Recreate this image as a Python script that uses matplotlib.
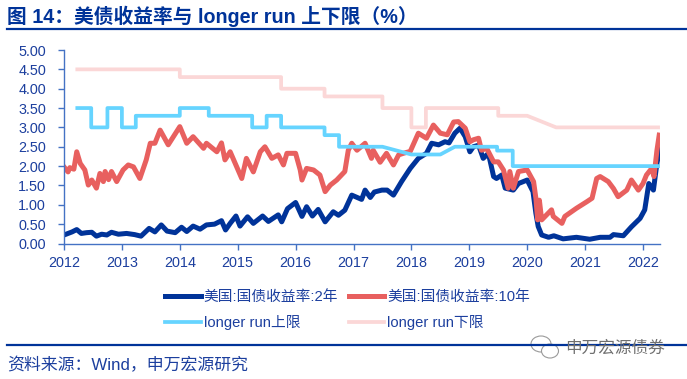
import matplotlib
matplotlib.use('Agg')
import matplotlib.pyplot as plt
from matplotlib.patches import Ellipse
from matplotlib.lines import Line2D

plt.rcParams['font.family'] = ['Liberation Sans', 'Noto Sans CJK SC']

# ---- data (decimal years) ----
x_2y = [2012.0, 2012.07, 2012.14, 2012.22, 2012.3, 2012.39, 2012.48, 2012.56, 2012.65, 2012.74, 2012.82, 2012.94,
        2013.08, 2013.22, 2013.33, 2013.47, 2013.57, 2013.68, 2013.78, 2013.92, 2014.03, 2014.12, 2014.23, 2014.35,
        2014.46, 2014.6, 2014.72, 2014.79, 2014.87, 2014.97, 2015.04, 2015.17, 2015.27, 2015.43, 2015.53, 2015.7,
        2015.76, 2015.86, 2016.0, 2016.11, 2016.19, 2016.29, 2016.39, 2016.51, 2016.65, 2016.74, 2016.85, 2016.97,
        2017.14, 2017.2, 2017.29, 2017.36, 2017.49, 2017.58, 2017.69, 2017.83, 2017.98, 2018.12, 2018.26, 2018.35,
        2018.47, 2018.58, 2018.65, 2018.75, 2018.84, 2018.93, 2019.01, 2019.07, 2019.16, 2019.24, 2019.33, 2019.42,
        2019.47, 2019.56, 2019.62, 2019.76, 2019.85, 2020.0, 2020.1, 2020.15, 2020.19, 2020.25, 2020.37, 2020.46,
        2020.62, 2020.85, 2021.08, 2021.26, 2021.43, 2021.49, 2021.66, 2021.8, 2021.95, 2022.03, 2022.1, 2022.18,
        2022.24, 2022.29]
y_2y = [0.22, 0.26, 0.3, 0.36, 0.26, 0.28, 0.29, 0.19, 0.24, 0.22, 0.29, 0.24,
        0.26, 0.23, 0.19, 0.39, 0.3, 0.48, 0.32, 0.28, 0.42, 0.31, 0.45, 0.37,
        0.48, 0.5, 0.59, 0.35, 0.52, 0.71, 0.45, 0.69, 0.52, 0.71, 0.57, 0.74,
        0.56, 0.9, 1.06, 0.7, 0.95, 0.71, 0.88, 0.56, 0.82, 0.73, 0.86, 1.25,
        1.14, 1.38, 1.19, 1.33, 1.38, 1.38, 1.25, 1.6, 1.94, 2.2, 2.33, 2.59,
        2.55, 2.63, 2.6, 2.85, 2.98, 2.76, 2.37, 2.5, 2.54, 2.2, 2.33, 1.73,
        1.68, 1.77, 1.43, 1.38, 1.55, 1.64, 1.34, 0.78, 0.44, 0.22, 0.16, 0.2,
        0.12, 0.16, 0.11, 0.16, 0.16, 0.23, 0.2, 0.43, 0.65, 0.87, 1.55, 1.38,
        2.07, 2.46]

x_10y = [2012.0, 2012.07, 2012.1, 2012.17, 2012.22, 2012.28, 2012.36, 2012.42, 2012.48, 2012.56, 2012.62, 2012.68,
         2012.71, 2012.77, 2012.82, 2012.91, 2013.02, 2013.11, 2013.2, 2013.31, 2013.42, 2013.49, 2013.57, 2013.66,
         2013.8, 2014.0, 2014.12, 2014.23, 2014.41, 2014.46, 2014.64, 2014.72, 2014.78, 2014.87, 2015.07, 2015.15,
         2015.27, 2015.39, 2015.47, 2015.59, 2015.7, 2015.79, 2015.85, 2016.0, 2016.08, 2016.11, 2016.19, 2016.31,
         2016.42, 2016.51, 2016.6, 2016.71, 2016.85, 2016.91, 2016.97, 2017.06, 2017.2, 2017.31, 2017.34, 2017.46,
         2017.57, 2017.69, 2017.78, 2017.86, 2017.98, 2018.12, 2018.26, 2018.38, 2018.5, 2018.62, 2018.73, 2018.81,
         2018.93, 2019.01, 2019.07, 2019.16, 2019.21, 2019.3, 2019.42, 2019.5, 2019.59, 2019.67, 2019.7, 2019.76,
         2019.85, 2020.0, 2020.11, 2020.15, 2020.18, 2020.21, 2020.25, 2020.42, 2020.45, 2020.6, 2020.65, 2020.85,
         2021.03, 2021.12, 2021.2, 2021.26, 2021.4, 2021.49, 2021.57, 2021.72, 2021.8, 2021.92, 2022.0, 2022.06,
         2022.15, 2022.19, 2022.24, 2022.28]
y_10y = [1.98, 1.85, 1.96, 1.92, 2.37, 2.07, 1.9, 1.51, 1.64, 1.43, 1.81, 1.6,
         1.86, 1.65, 1.86, 1.6, 1.9, 2.03, 1.98, 1.68, 2.16, 2.59, 2.59, 2.93,
         2.55, 3.02, 2.59, 2.76, 2.46, 2.59, 2.37, 2.6, 2.16, 2.37, 1.68, 2.2,
         1.85, 2.37, 2.5, 2.2, 2.29, 2.03, 2.33, 2.33, 1.9, 1.64, 1.94, 1.9,
         1.77, 1.34, 1.51, 1.64, 1.86, 2.41, 2.59, 2.41, 2.59, 2.2, 2.41, 2.1,
         2.33, 2.03, 2.29, 2.33, 2.38, 2.85, 2.72, 3.06, 2.85, 2.81, 3.14, 3.15,
         2.98, 2.63, 2.68, 2.72, 2.41, 2.46, 2.11, 2.11, 1.9, 1.43, 1.86, 1.43,
         1.86, 1.9, 1.6, 1.17, 0.61, 1.12, 0.61, 0.87, 0.7, 0.52, 0.7, 0.91,
         1.08, 1.17, 1.68, 1.73, 1.6, 1.42, 1.21, 1.38, 1.64, 1.38, 1.55, 1.77,
         1.94, 1.73, 2.4, 2.8]

x_upper = [2012.23, 2012.47, 2012.47, 2012.75, 2012.75, 2013.0, 2013.0, 2013.24, 2013.24, 2014.0, 2014.0, 2014.5,
           2014.5, 2015.25, 2015.25, 2015.5, 2015.5, 2015.75, 2015.75, 2016.5, 2016.5, 2016.75, 2016.75, 2017.5,
           2018.0, 2018.5, 2018.75, 2019.48, 2019.48, 2019.75, 2019.75, 2022.26]
y_upper = [3.5, 3.5, 3.0, 3.0, 3.5, 3.5, 3.0, 3.0, 3.3, 3.3, 3.5, 3.5,
           3.3, 3.3, 3.0, 3.0, 3.3, 3.3, 3.0, 3.0, 2.8, 2.8, 2.5, 2.5,
           2.3, 2.3, 2.5, 2.5, 2.4, 2.4, 2.0, 2.0]

x_lower = [2012.23, 2014.0, 2014.0, 2015.75, 2015.75, 2016.5, 2016.5, 2017.5, 2017.5, 2018.0, 2018.0, 2018.25,
           2018.25, 2019.5, 2019.5, 2020.0, 2020.5, 2022.26]
y_lower = [4.5, 4.5, 4.3, 4.3, 4.0, 4.0, 3.8, 3.8, 3.5, 3.5, 3.0, 3.0,
           3.5, 3.5, 3.3, 3.3, 3.0, 3.0]

years = list(range(2012, 2023))
y_ticks = [0, 0.5, 1, 1.5, 2, 2.5, 3, 3.5, 4, 4.5, 5]

NAVY = '#003399'
TXT = '#1c3f9e'
W, H = 687, 379

fig = plt.figure(figsize=(W / 100, H / 100), dpi=100)
ax = fig.add_axes([64 / W, 1 - 243.5 / H, 596 / W, 193.5 / H])

ax.plot(x_2y, y_2y, color=NAVY, lw=3.6, label='美国:国债收益率:2年', solid_joinstyle='round')
ax.plot(x_10y, y_10y, color='#e8605f', lw=3.6, label='美国:国债收益率:10年', solid_joinstyle='round')
ax.plot(x_upper, y_upper, color='#66d4ff', lw=2.7, label='longer run上限')
ax.plot(x_lower, y_lower, color='#fbd7d7', lw=2.7, label='longer run下限')

ax.set_xlim(2012, 2012 + 596 / 57.9)
ax.set_ylim(0, 5)
ax.set_xticks(years)
ax.set_yticks(y_ticks)
ax.set_yticklabels([f'{v:.2f}' for v in y_ticks])
ax.tick_params(colors='#4472c4', labelcolor=TXT, labelsize=10.4, length=4, width=1)
ax.tick_params(axis='y', pad=9)
ax.tick_params(axis='x', pad=5)
for s in ('top', 'right'):
    ax.spines[s].set_visible(False)
for s in ('left', 'bottom'):
    ax.spines[s].set_color('#4472c4')
    ax.spines[s].set_linewidth(1)

# legend sits in two columns under the plot
handles, labels = ax.get_legend_handles_labels()
order = [0, 2, 1, 3]
leg = fig.legend([handles[i] for i in order], [labels[i] for i in order], ncol=2, frameon=False,
                 loc='upper left', bbox_to_anchor=(155 / W, 1 - 280 / H), fontsize=10.6,
                 labelcolor=TXT, handlelength=2.4, handletextpad=0.2, columnspacing=0.75,
                 labelspacing=0.75, borderpad=0.2)

# header, rules, source (full-width punctuation as escapes)
fig.text(7 / W, 1 - 16 / H, '图 14\uff1a美债收益率与 longer run 上下限\uff08%\uff09', color=NAVY, fontsize=14.2,
         fontweight='bold', va='center', ha='left')
fig.add_artist(Line2D([7 / W, 1], [1 - 29 / H] * 2, color=NAVY, lw=1.6))
fig.add_artist(Line2D([7 / W, 1], [1 - 345 / H] * 2, color=NAVY, lw=1.6))
fig.text(7 / W, 1 - 365 / H, '资料来源\uff1aWind\uff0c申万宏源研究', color=TXT, fontsize=12.2, va='center', ha='left')

# watermark
for cx, cy, w, h in [(541, 344, 20, 16), (550, 351, 17, 14)]:
    fig.add_artist(Ellipse((cx / W, 1 - cy / H), w / W, h / H, transform=fig.transFigure,
                           facecolor='white', edgecolor='#9a9a9a', lw=0.8))
fig.text(565 / W, 1 - 348 / H, '申万宏源债券', color='#6f6f6f', fontsize=12, va='center', ha='left')

fig.savefig('out.png', dpi=100)
